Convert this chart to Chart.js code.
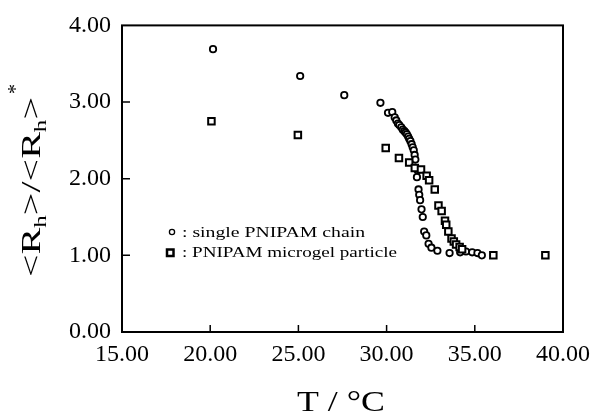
<!DOCTYPE html>
<html><head><meta charset="utf-8">
<script src="https://cdn.jsdelivr.net/npm/chart.js@4/dist/chart.umd.min.js"></script>
<style>html,body{margin:0;padding:0;background:#fff;}#wrap{position:relative;width:598px;height:414px;}</style>
</head><body><div id="wrap"><canvas id="c" width="598" height="414"></canvas></div>
<script>
// single PNIPAM chain (circles)
const chainT = [20.16, 25.10, 27.60, 29.65, 30.08, 30.32, 30.46, 30.55, 30.64, 30.72, 30.83, 30.92, 31.01, 31.08, 31.15, 31.22, 31.28, 31.35, 31.42, 31.48, 31.54, 31.59, 31.63, 31.62, 31.76, 31.72, 31.81, 31.85, 31.90, 31.98, 32.05, 32.13, 32.25, 32.38, 32.54, 32.88, 33.57, 34.17, 34.50, 34.85, 35.15, 35.40];
const chainR = [3.69, 3.34, 3.09, 2.99, 2.86, 2.87, 2.80, 2.76, 2.72, 2.70, 2.67, 2.64, 2.62, 2.60, 2.58, 2.55, 2.52, 2.49, 2.45, 2.41, 2.37, 2.31, 2.25, 2.14, 2.11, 2.02, 1.86, 1.79, 1.72, 1.60, 1.50, 1.31, 1.26, 1.15, 1.10, 1.06, 1.03, 1.04, 1.05, 1.04, 1.03, 1.00];
// PNIPAM microgel particle (squares)
const gelT = [20.07, 24.97, 29.95, 30.70, 31.28, 31.60, 31.95, 32.27, 32.41, 32.73, 32.94, 33.12, 33.31, 33.38, 33.50, 33.68, 33.81, 33.94, 34.14, 34.28, 36.05, 39.00];
const gelR = [2.75, 2.57, 2.40, 2.27, 2.21, 2.14, 2.12, 2.04, 1.98, 1.86, 1.65, 1.58, 1.45, 1.40, 1.31, 1.22, 1.18, 1.14, 1.11, 1.08, 1.00, 1.00];
const xTicks = [15, 20, 25, 30, 35, 40];
const yTicks = [0, 1, 2, 3, 4];
const legendLabels = ['single PNIPAM chain', 'PNIPAM microgel particle'];
const xTitle = 'T / \u00B0C';

const SERIF = '"Liberation Serif", "Times New Roman", serif';

function pts(xs, ys) { return xs.map((x, i) => ({x: x, y: ys[i]})); }

function drawSegments(ctx, segs, scaleX) {
  let cx = 0;
  for (const s of segs) {
    ctx.font = s[1] + 'px ' + SERIF;
    ctx.save();
    ctx.scale(scaleX, 1);
    ctx.fillText(s[0], cx / scaleX, s[2]);
    ctx.restore();
    cx += ctx.measureText(s[0]).width * scaleX;
  }
}
function segWidth(ctx, segs) {
  let w = 0;
  for (const s of segs) { ctx.font = s[1] + 'px ' + SERIF; w += ctx.measureText(s[0]).width; }
  return w;
}

const decor = {
  id: 'decor',
  afterDraw(chart) {
    const ctx = chart.ctx, a = chart.chartArea;
    const xs = chart.scales.x, ys = chart.scales.y;
    ctx.save();
    ctx.strokeStyle = '#000';
    ctx.lineWidth = 2;
    ctx.strokeRect(a.left, a.top, a.right - a.left, a.bottom - a.top);
    ctx.lineWidth = 1.5;
    ctx.beginPath();
    for (const v of xTicks.slice(1, -1)) {
      const px = xs.getPixelForValue(v);
      ctx.moveTo(px, a.bottom); ctx.lineTo(px, a.bottom - 7);
    }
    for (const v of yTicks.slice(1, -1)) {
      const py = ys.getPixelForValue(v);
      ctx.moveTo(a.left, py); ctx.lineTo(a.left + 8, py);
    }
    ctx.stroke();

    ctx.fillStyle = '#000';
    ctx.textBaseline = 'alphabetic';
    ctx.textAlign = 'left';
    // y title (rotated, with subscripts)
    const main = 27, sub = 17;
    const ySegs = [['<', main, 0], ['R', main, 0], ['h', sub, 6], ['>', main, 0], ['/', main, 0],
                   ['<', main, 0], ['R', main, 0], ['h', sub, 6], ['>', main, 0]];
    const yw = segWidth(ctx, ySegs);
    const ysc = 180 / yw;
    ctx.save();
    ctx.translate(40, 277);
    ctx.rotate(-Math.PI / 2);
    drawSegments(ctx, ySegs, ysc);
    ctx.font = '20px ' + SERIF;
    ctx.fillText('*', 183, -18);
    ctx.restore();

    // x title
    ctx.font = '30px ' + SERIF;
    const xw = ctx.measureText(xTitle).width;
    const xsc = 88 / xw;
    ctx.save();
    ctx.translate(297, 411);
    ctx.scale(xsc, 1);
    ctx.fillText(xTitle, 0, 0);
    ctx.restore();

    // legend
    ctx.font = '15.5px ' + SERIF;
    const l1 = ': ' + legendLabels[0], l2 = ': ' + legendLabels[1];
    const w1 = ctx.measureText(l1).width, w2 = ctx.measureText(l2).width;
    ctx.save(); ctx.translate(182, 237); ctx.scale(183 / w1, 1); ctx.fillText(l1, 0, 0); ctx.restore();
    ctx.save(); ctx.translate(182, 257); ctx.scale(215 / w2, 1); ctx.fillText(l2, 0, 0); ctx.restore();
    ctx.lineWidth = 1.3;
    ctx.beginPath(); ctx.arc(172, 232, 2.6, 0, Math.PI * 2); ctx.stroke();
    ctx.lineWidth = 2.5;
    ctx.strokeRect(167, 249.5, 6.5, 6.5);
    ctx.restore();
  }
};

new Chart(document.getElementById('c'), {
  type: 'scatter',
  data: {
    datasets: [
      {label: legendLabels[1], data: pts(gelT, gelR), pointStyle: 'rect', pointRadius: 4.6,
       borderColor: '#000', backgroundColor: '#fff', borderWidth: 2, clip: false},
      {label: legendLabels[0], data: pts(chainT, chainR), pointStyle: 'circle', pointRadius: 3.2,
       borderColor: '#000', backgroundColor: '#fff', borderWidth: 1.8, clip: false}
    ]
  },
  options: {
    responsive: false, animation: false, devicePixelRatio: 1,
    layout: {padding: {left: 0, right: 29, top: 25, bottom: 0}},
    plugins: {legend: {display: false}, tooltip: {enabled: false}},
    scales: {
      x: {
        type: 'linear', min: 15, max: 40,
        afterBuildTicks: s => { s.ticks = xTicks.map(v => ({value: v})); },
        afterFit: s => { s.height = 82; },
        grid: {display: false, drawTicks: false},
        border: {display: false},
        ticks: {color: '#000', font: {family: SERIF, size: 24}, padding: 8, maxRotation: 0,
                callback: v => Number(v).toFixed(2)}
      },
      y: {
        type: 'linear', min: 0, max: 4,
        afterBuildTicks: s => { s.ticks = yTicks.map(v => ({value: v})); },
        afterFit: s => { s.width = 122; },
        grid: {display: false, drawTicks: false},
        border: {display: false},
        ticks: {color: '#000', font: {family: SERIF, size: 24}, padding: 11,
                callback: v => Number(v).toFixed(2)}
      }
    }
  },
  plugins: [decor]
});
</script></body></html>
